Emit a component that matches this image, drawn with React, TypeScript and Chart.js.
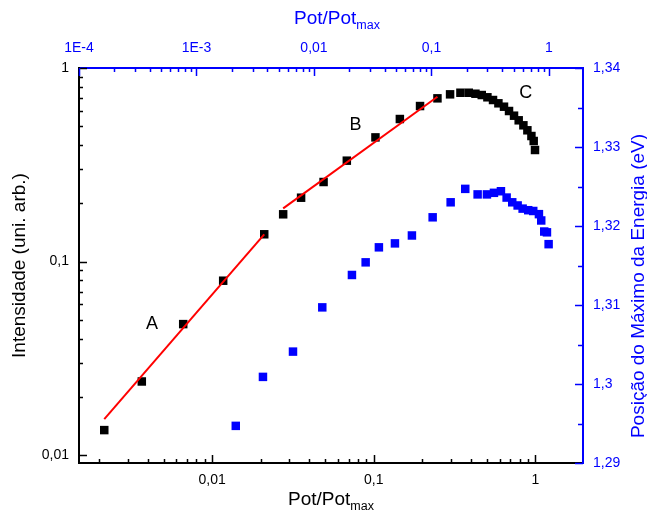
import { useEffect, useRef } from "react";
import { Chart, registerables } from "chart.js";

Chart.register(...registerables);

// Emission intensity vs. relative pump power (bottom axis, left axis)
const intensityPower = [
  0.00215, 0.00367, 0.00662, 0.0117, 0.021, 0.0275, 0.0355, 0.0489, 0.0681, 0.1024,
  0.145, 0.1933, 0.2477, 0.2965, 0.3436, 0.387, 0.4256, 0.4656, 0.5047, 0.5467,
  0.5903, 0.6393, 0.6867, 0.7375, 0.788, 0.8428, 0.892, 0.9447, 0.976, 0.9943,
];
const intensity = [
  0.01346, 0.024, 0.0475, 0.0796, 0.1383, 0.1754, 0.2137, 0.2576, 0.332, 0.438,
  0.545, 0.636, 0.697, 0.731, 0.745, 0.745, 0.7363, 0.725, 0.7058, 0.6833,
  0.657, 0.631, 0.5995, 0.567, 0.5367, 0.5057, 0.4766, 0.4452, 0.4196, 0.377,
];

// Peak energy position vs. relative pump power (top axis, right axis)
const energyPower = [
  0.00216, 0.00368, 0.00663, 0.01177, 0.02105, 0.02754, 0.0357, 0.0489, 0.0682, 0.1024,
  0.1457, 0.194, 0.2472, 0.2967, 0.3404, 0.3904, 0.4365, 0.4872, 0.5416, 0.5973,
  0.6665, 0.7354, 0.822, 0.86, 0.912, 0.962, 0.994,
];
const energyPeak = [
  1.2947, 1.3009, 1.3041, 1.3097, 1.3138, 1.3154, 1.3173, 1.3178, 1.3188, 1.3211,
  1.323, 1.3247, 1.324, 1.324, 1.3242, 1.3244, 1.3236, 1.323, 1.3226, 1.3222,
  1.322, 1.3219, 1.3215, 1.3207, 1.3193, 1.3192, 1.3177,
];

// Power-law fits, regions A and B
const fitAPower = [0.00215, 0.021];
const fitAIntensity = [0.01535, 0.1383];
const fitBPower = [0.0275, 0.2477];
const fitBIntensity = [0.1883, 0.7106];

// Region labels
const regionNames = ["A", "B", "C"];
const regionPower = [0.00424, 0.077, 0.871];
const regionIntensity = [0.0475, 0.507, 0.745];

// Axis ticks
const bottomTicks = [0.01, 0.1, 1];
const bottomTickText = ["0,01", "0,1", "1"];
const topTicks = [1e-4, 1e-3, 0.01, 0.1, 1];
const topTickText = ["1E-4", "1E-3", "0,01", "0,1", "1"];
const leftTicks = [0.01, 0.1, 1];
const leftTickText = ["0,01", "0,1", "1"];
const rightTicks = [1.29, 1.3, 1.31, 1.32, 1.33, 1.34];
const rightTickText = ["1,29", "1,3", "1,31", "1,32", "1,33", "1,34"];

const BLUE = "#0000ff";
const FONT = "'Liberation Sans', Arial, sans-serif";
const TITLE_SIZE = 19;

const pts = (xs: number[], ys: number[]) => xs.map((x, i) => ({ x, y: ys[i] }));

const tickLabel = (vals: number[], text: string[]) => (v: number | string) => {
  const n = Number(v);
  const i = vals.findIndex((t) => Math.abs(t - n) <= Math.abs(t) * 1e-6);
  return i >= 0 ? text[i] : "";
};

const logMarks = (min: number, max: number) => {
  const out: { v: number; major: boolean }[] = [];
  for (let e = Math.floor(Math.log10(min)); e <= Math.ceil(Math.log10(max)); e++) {
    for (let m = 1; m <= 9; m++) {
      const v = m * Math.pow(10, e);
      if (v >= min * 0.9999 && v <= max * 1.0001) out.push({ v, major: m === 1 });
    }
  }
  return out;
};

const drawTitle = (
  ctx: CanvasRenderingContext2D,
  main: string,
  sub: string,
  cx: number,
  baseline: number,
  color: string
) => {
  ctx.fillStyle = color;
  ctx.textBaseline = "alphabetic";
  ctx.textAlign = "left";
  ctx.font = `${TITLE_SIZE}px ${FONT}`;
  const w1 = ctx.measureText(main).width;
  ctx.font = `12.5px ${FONT}`;
  const w2 = ctx.measureText(sub).width;
  const x0 = cx - (w1 + w2) / 2;
  ctx.font = `${TITLE_SIZE}px ${FONT}`;
  ctx.fillText(main, x0, baseline);
  ctx.font = `12.5px ${FONT}`;
  ctx.fillText(sub, x0 + w1, baseline + 5);
};

const decorations = {
  id: "decorations",
  afterDraw(chart: any) {
    const { ctx, chartArea: ca, scales } = chart;
    const { x, x2, y, y2 } = scales;
    ctx.save();
    ctx.lineWidth = 1.5;

    // inward tick marks
    ctx.strokeStyle = "#000";
    ctx.beginPath();
    for (const t of logMarks(x.min, x.max)) {
      const p = Math.round(x.getPixelForValue(t.v)) + 0.5;
      ctx.moveTo(p, ca.bottom);
      ctx.lineTo(p, ca.bottom - (t.major ? 8 : 4));
    }
    for (const t of logMarks(y.min, y.max)) {
      const p = Math.round(y.getPixelForValue(t.v)) + 0.5;
      ctx.moveTo(ca.left, p);
      ctx.lineTo(ca.left + (t.major ? 8 : 4), p);
    }
    ctx.stroke();

    ctx.strokeStyle = BLUE;
    ctx.beginPath();
    for (const t of logMarks(x2.min, x2.max)) {
      const p = Math.round(x2.getPixelForValue(t.v)) + 0.5;
      ctx.moveTo(p, ca.top);
      ctx.lineTo(p, ca.top + (t.major ? 8 : 4));
    }
    for (let k = 0; k <= 10; k++) {
      const v = 1.29 + k * 0.005;
      const p = Math.round(y2.getPixelForValue(v)) + 0.5;
      ctx.moveTo(ca.right, p);
      ctx.lineTo(ca.right - (k % 2 === 0 ? 8 : 5), p);
    }
    ctx.stroke();

    // axis titles
    drawTitle(ctx, "Pot/Pot", "max", 331, 505, "#000");
    drawTitle(ctx, "Pot/Pot", "max", 337, 24, BLUE);

    ctx.font = `${TITLE_SIZE}px ${FONT}`;
    ctx.textAlign = "center";
    ctx.textBaseline = "middle";
    ctx.fillStyle = "#000";
    ctx.save();
    ctx.translate(20, (ca.top + ca.bottom) / 2);
    ctx.rotate(-Math.PI / 2);
    ctx.fillText("Intensidade (uni. arb.)", 0, 0);
    ctx.restore();

    ctx.fillStyle = BLUE;
    ctx.save();
    ctx.translate(639, 286);
    ctx.rotate(-Math.PI / 2);
    ctx.fillText("Posição do Máximo da Energia (eV)", 0, 0);
    ctx.restore();

    // region labels
    ctx.fillStyle = "#000";
    ctx.font = `18px ${FONT}`;
    regionNames.forEach((name, i) => {
      ctx.fillText(name, x.getPixelForValue(regionPower[i]), y.getPixelForValue(regionIntensity[i]));
    });

    ctx.restore();
  },
};

export default function App() {
  const ref = useRef<HTMLCanvasElement>(null);

  useEffect(() => {
    if (!ref.current) return;
    Chart.defaults.font.family = FONT;
    const chart = new Chart(ref.current, {
      type: "scatter",
      data: {
        datasets: [
          {
            data: pts(fitAPower, fitAIntensity),
            xAxisID: "x",
            yAxisID: "y",
            showLine: true,
            borderColor: "#ff0000",
            borderWidth: 2,
            pointRadius: 0,
          },
          {
            data: pts(fitBPower, fitBIntensity),
            xAxisID: "x",
            yAxisID: "y",
            showLine: true,
            borderColor: "#ff0000",
            borderWidth: 2,
            pointRadius: 0,
          },
          {
            data: pts(intensityPower, intensity),
            xAxisID: "x",
            yAxisID: "y",
            pointStyle: "rect",
            pointRadius: 6,
            backgroundColor: "#000",
            borderColor: "#000",
            borderWidth: 0,
          },
          {
            data: pts(energyPower, energyPeak),
            xAxisID: "x2",
            yAxisID: "y2",
            pointStyle: "rect",
            pointRadius: 6,
            backgroundColor: BLUE,
            borderColor: BLUE,
            borderWidth: 0,
          },
        ],
      },
      options: {
        animation: false,
        responsive: false,
        layout: { padding: 0 },
        plugins: { legend: { display: false }, tooltip: { enabled: false } },
        scales: {
          x: {
            type: "logarithmic",
            position: "bottom",
            min: 0.0015,
            max: 1.97,
            afterBuildTicks: (s: any) => {
              s.ticks = bottomTicks.map((value) => ({ value }));
            },
            afterFit: (s: any) => {
              s.height = 56;
            },
            grid: { display: false, drawTicks: false },
            border: { display: true, color: "#000", width: 2 },
            ticks: {
              autoSkip: false,
              maxRotation: 0,
              padding: 9,
              color: "#000",
              font: { size: 14 },
              callback: tickLabel(bottomTicks, bottomTickText),
            },
          },
          x2: {
            type: "logarithmic",
            position: "top",
            min: 1e-4,
            max: 1.95,
            afterBuildTicks: (s: any) => {
              s.ticks = topTicks.map((value) => ({ value }));
            },
            afterFit: (s: any) => {
              s.height = 68;
            },
            grid: { display: false, drawTicks: false },
            border: { display: true, color: BLUE, width: 2 },
            ticks: {
              autoSkip: false,
              maxRotation: 0,
              padding: 11,
              color: BLUE,
              font: { size: 14 },
              callback: tickLabel(topTicks, topTickText),
            },
          },
          y: {
            type: "logarithmic",
            position: "left",
            min: 0.0091,
            max: 1,
            afterBuildTicks: (s: any) => {
              s.ticks = leftTicks.map((value) => ({ value }));
            },
            afterFit: (s: any) => {
              s.width = 79;
            },
            grid: { display: false, drawTicks: false },
            border: { display: true, color: "#000", width: 2 },
            ticks: {
              autoSkip: false,
              padding: 10,
              color: "#000",
              font: { size: 14 },
              callback: tickLabel(leftTicks, leftTickText),
            },
          },
          y2: {
            type: "linear",
            position: "right",
            min: 1.29,
            max: 1.34,
            afterBuildTicks: (s: any) => {
              s.ticks = rightTicks.map((value) => ({ value }));
            },
            afterFit: (s: any) => {
              s.width = 64;
            },
            grid: { display: false, drawTicks: false },
            border: { display: true, color: BLUE, width: 2 },
            ticks: {
              autoSkip: false,
              padding: 10,
              color: BLUE,
              font: { size: 14 },
              callback: tickLabel(rightTicks, rightTickText),
            },
          },
        },
      },
      plugins: [decorations],
    });
    return () => chart.destroy();
  }, []);

  return (
    <div style={{ position: "absolute", left: 0, top: 0, width: 647, height: 519, background: "#fff" }}>
      <canvas ref={ref} width={647} height={519} style={{ display: "block" }} />
    </div>
  );
}
